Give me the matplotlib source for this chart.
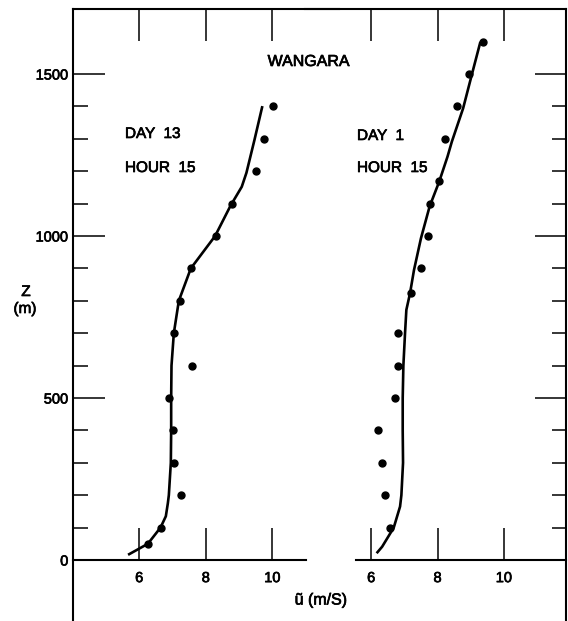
import matplotlib.pyplot as plt
import matplotlib.patheffects as pe

plt.rcParams['font.family'] = ['Liberation Sans', 'DejaVu Sans']

# Day 13, hour 15: observed mean wind (dots) and model profile (line)
z13_obs = [50, 100, 200, 300, 400, 500, 600, 700, 800, 900, 1000, 1100, 1200, 1300, 1400]
u13_obs = [6.26, 6.64, 7.25, 7.04, 7.01, 6.88, 7.58, 7.05, 7.23, 7.56, 8.31, 8.78, 9.50, 9.75, 10.02]
z13_mod = [18, 50, 100, 135, 175, 200, 300, 400, 500, 600, 700, 800, 900, 1000, 1093, 1152,
           1195, 1296, 1397]
u13_mod = [5.70, 6.26, 6.64, 6.80, 6.86, 6.89, 6.95, 6.96, 6.96, 6.97, 7.04, 7.19, 7.55, 8.28,
           8.74, 9.08, 9.22, 9.46, 9.69]

# Day 1, hour 15
z1_obs = [100, 200, 300, 400, 500, 600, 700, 825, 900, 1000, 1100, 1170, 1300, 1400, 1500, 1600]
u1_obs = [6.56, 6.43, 6.32, 6.21, 6.71, 6.80, 6.82, 7.19, 7.51, 7.72, 7.78, 8.04, 8.21, 8.58,
          8.96, 9.37]
z1_mod = [24, 41, 100, 165, 200, 300, 400, 500, 600, 700, 772, 823, 895, 993, 1091, 1168, 1245,
          1291, 1394, 1497, 1595]
u1_mod = [6.19, 6.33, 6.68, 6.87, 6.91, 6.96, 6.95, 6.95, 6.97, 7.02, 7.06, 7.17, 7.29, 7.50,
          7.76, 8.05, 8.30, 8.43, 8.77, 9.03, 9.28]

u_ticks = [6, 8, 10]
z_major = [0, 500, 1000, 1500]
z_minor = [z for z in range(100, 1500, 100) if z % 500]

W, H = 568, 621
fig = plt.figure(figsize=(W / 100, H / 100), dpi=100)

# slightly heavier lettering
ink = [pe.withStroke(linewidth=0.5, foreground='black')]

ylo, yhi = -200, 1700
bottom = 1 - 624.8 / H
height = 615.6 / H
ax1 = fig.add_axes([72.6 / W, bottom, (339 - 72.6) / W, height])
ax2 = fig.add_axes([304.8 / W, bottom, (566 - 304.8) / W, height])
ax1.set_xlim(4, 12)
ax2.set_xlim(4, 11.87)

LW = 1.5
for ax in (ax1, ax2):
    ax.set_facecolor('none')
    ax.set_ylim(ylo, yhi)
    for s in ax.spines.values():
        s.set_linewidth(LW)
    ax.spines['bottom'].set_visible(False)
    ax.xaxis.set_ticks_position('top')
    ax.set_xticks(u_ticks)
    ax.tick_params(axis='x', direction='in', length=23, width=1.1, labeltop=False)

ax1.spines['right'].set_visible(False)
ax2.spines['left'].set_visible(False)

ax1.yaxis.set_ticks_position('left')
ax1.set_yticks(z_major)
ax1.set_yticks(z_minor, minor=True)
ax1.tick_params(axis='y', which='major', direction='in', length=23, width=1.1,
                pad=3, labelsize=10.5)
ax1.tick_params(axis='y', which='minor', direction='in', length=11, width=1.1)
for t in ax1.get_yticklabels():
    t.set_path_effects(ink)

ax2.yaxis.set_ticks_position('right')
ax2.set_yticks(z_major[1:])
ax2.set_yticks(z_minor, minor=True)
ax2.tick_params(axis='y', which='major', direction='in', length=22, width=1.1,
                labelright=False)
ax2.tick_params(axis='y', which='minor', direction='in', length=10, width=1.1)

# z = 0 baselines with their own ticks
base = (0 - ylo) / (yhi - ylo)
for ax, lo, hi in ((ax1, 4, 11.0), (ax2, 5.55, 11.87)):
    sec = ax.secondary_xaxis(base)
    sec.set_xticks(u_ticks)
    sec.tick_params(direction='in', length=23, width=1.1, pad=8, labelsize=10.5)
    sec.spines['bottom'].set_bounds(lo, hi)
    sec.spines['bottom'].set_linewidth(LW)
    for t in sec.get_xticklabels():
        t.set_path_effects(ink)

ax1.plot(u13_mod, z13_mod, color='black', lw=1.9, solid_joinstyle='round')
ax1.plot(u13_obs, z13_obs, 'o', color='black', ms=5)
ax2.plot(u1_mod, z1_mod, color='black', lw=1.9, solid_joinstyle='round')
ax2.plot(u1_obs, z1_obs, 'o', color='black', ms=5)


def ftext(x, y, s, **kw):
    fig.text(x / W, 1 - y / H, s, va='center', path_effects=ink, **kw)


ftext(308.5, 61.5, 'WANGARA', ha='center', fontsize=11.5)
ftext(125, 134, 'DAY  13', ha='left', fontsize=11)
ftext(125, 168, 'HOUR  15', ha='left', fontsize=11)
ftext(357, 136, 'DAY  1', ha='left', fontsize=11)
ftext(357, 168, 'HOUR  15', ha='left', fontsize=11)
ftext(26, 292, 'Z', ha='center', fontsize=11)
ftext(25, 309, '(m)', ha='center', fontsize=11)
ftext(321, 600, 'ũ (m/S)', ha='center', fontsize=11.5)

fig.savefig('out.png', dpi=100)
